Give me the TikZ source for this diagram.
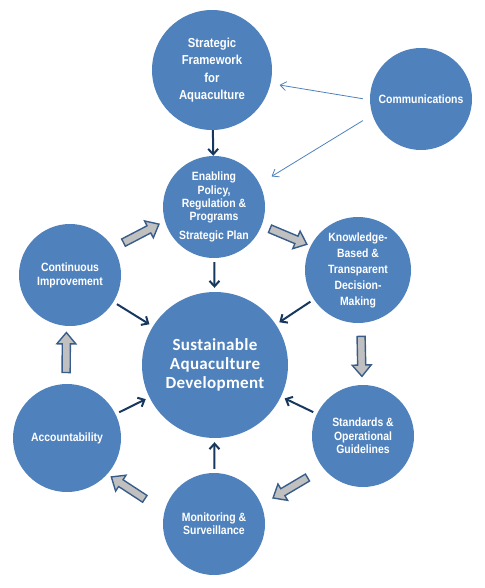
\documentclass[tikz,border=0pt]{standalone}
\usepackage{fontspec}
\newfontfamily\narrowsans[FakeStretch=0.87]{Liberation Sans}
\newfontfamily\titlesans[LetterSpace=2]{Carlito}
\usetikzlibrary{shapes,arrows.meta,positioning,calc}

\definecolor{bubblefill}{HTML}{4F81BD}
\definecolor{darknavy}{HTML}{17375E}
\definecolor{commblue}{HTML}{4F81BD}
\definecolor{blockfill}{HTML}{C0C0C0}
\definecolor{blockedge}{HTML}{385D8A}

\begin{document}
\begin{tikzpicture}[x=1pt, y=-1pt,
    bubble/.style={circle, fill=bubblefill, text=white, align=center, inner sep=0pt,
        font=\narrowsans\bfseries\fontsize{12}{13.3}\selectfont},
    feeds/.style={-{Straight Barb[length=5.5pt,width=10pt]}, line width=2pt, draw=darknavy,
        shorten <=4pt, shorten >=4pt},
    informs/.style={-{Straight Barb[length=6pt,width=9pt]}, line width=0.8pt, draw=commblue},
    cycle/.style={single arrow, draw=blockedge, fill=blockfill, line width=1.4pt,
        minimum height=40pt, minimum width=19pt, single arrow head extend=5pt,
        single arrow tip angle=80, inner sep=3pt, sloped, allow upside down}]

    \useasboundingbox (0,0) rectangle (484,588);

    % circles
    \node[bubble, minimum size=120pt, font=\narrowsans\bfseries\fontsize{13}{17.5}\selectfont]
        (frame) at (212,70) {Strategic\\Framework\\for\\Aquaculture};
    \node[bubble, minimum size=102pt] (comm) at (421,99) {Communications};
    \node[bubble, minimum size=102pt] (enab) at (214,207)
        {Enabling\\Policy,\\Regulation \&\\Programs\\[5pt]Strategic Plan};
    \node[bubble, minimum size=106pt, font=\narrowsans\bfseries\fontsize{12}{16}\selectfont]
        (know) at (358,270) {Knowledge-\\Based \&\\Transparent\\Decision-\\Making};
    \node[bubble, minimum size=102pt, font=\narrowsans\bfseries\fontsize{12}{14}\selectfont]
        (cont) at (70,275) {Continuous\\Improvement};
    \node[bubble, minimum size=146pt, font=\titlesans\bfseries\fontsize{17}{18.7}\selectfont]
        (sust) at (215,365) {Sustainable\\Aquaculture\\Development};
    \node[bubble, minimum size=102pt] (stand) at (363,436) {Standards \&\\Operational\\Guidelines};
    \node[bubble, minimum size=108pt] (acc) at (67,438) {Accountability};
    \node[bubble, minimum size=102pt] (mon) at (214,524) {Monitoring \&\\Surveillance};

    % arrows into the centre
    \draw[feeds, shorten <=0pt, shorten >=0pt] (frame) -- (enab);
    \draw[feeds] (enab) -- (sust);
    \draw[feeds] (cont) -- (sust);
    \draw[feeds] (know) -- (sust);
    \draw[feeds] (acc) -- (sust);
    \draw[feeds] (stand) -- (sust);
    \draw[feeds] (mon) -- (sust);

    % communications
    \draw[informs, shorten <=7pt, shorten >=9pt] (comm.181) -- (frame.-13);
    \draw[informs, shorten <=11pt, shorten >=14pt] (comm.198) -- (enab.27);

    % the cycle
    \path (cont.32) -- (enab.196) node[cycle, midway] (ca1) {};
    \path (enab.339) -- (know.153) node[cycle, midway] (ca2) {};
    \path (know.273) -- (stand.91) node[cycle, midway] (ca3) {};
    \path (stand.219) -- (mon.22) node[cycle, midway] (ca4) {};
    \path (mon.166) -- (acc.318) node[cycle, pos=.6] (ca5) {};
    \path (acc.91) -- (cont.266) node[cycle, midway] (ca6) {};
\end{tikzpicture}
\end{document}
